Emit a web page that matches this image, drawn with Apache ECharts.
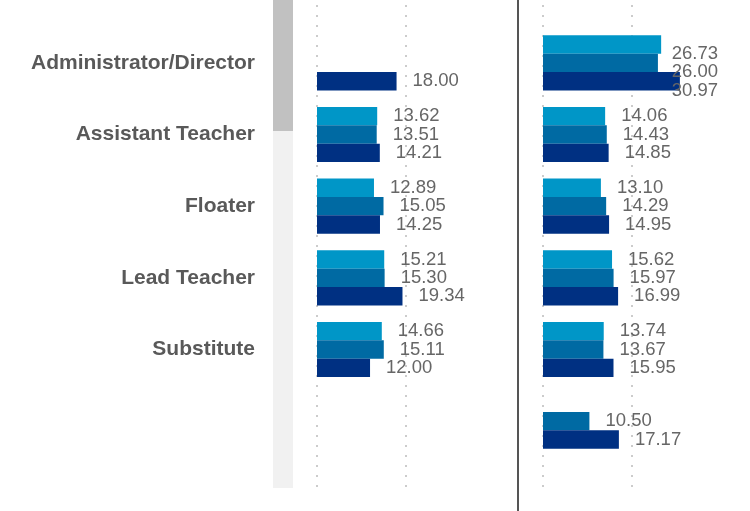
<!DOCTYPE html>
<html>
<head>
<meta charset="utf-8">
<script src="https://cdn.jsdelivr.net/npm/echarts@6/dist/echarts.min.js"></script>
<style>
  html, body { margin: 0; padding: 0; background: #fff; }
  #chart { width: 750px; height: 511px; }
</style>
</head>
<body>
<div id="chart"></div>
<script>
// categories (last row has no label)
const roles = ['Administrator/Director', 'Assistant Teacher', 'Floater', 'Lead Teacher', 'Substitute', ''];

// left panel
const leftLight = [null, 13.62, 12.89, 15.21, 14.66, null];
const leftMid   = [null, 13.51, 15.05, 15.30, 15.11, null];
const leftDark  = [18.00, 14.21, 14.25, 19.34, 12.00, null];

// right panel
const rightLight = [26.73, 14.06, 13.10, 15.62, 13.74, null];
const rightMid   = [26.00, 14.43, 14.29, 15.97, 13.67, 10.50];
const rightDark  = [30.97, 14.85, 14.95, 16.99, 15.95, 17.17];

// dotted guide lines
const gridTicks = [0, 20];

const colors = ['#0096c7', '#006aa3', '#003082'];
const pxPerUnit = 4.42;
const labelLimit = 718; // labels never pass this x

var chart = echarts.init(document.getElementById('chart'));

function barSeries(data, color, xi, yi) {
  return {
    type: 'bar',
    data: data,
    xAxisIndex: xi,
    yAxisIndex: yi,
    barWidth: 18.4,
    barGap: '0%',
    itemStyle: { color: color },
    label: {
      show: true,
      position: 'right',
      distance: 16,
      formatter: p => p.value == null ? '' : Number(p.value).toFixed(2),
      color: '#666',
      fontSize: 18.5,
      fontFamily: 'Liberation Sans, Arial, sans-serif'
    },
    labelLayout: function (params) {
      var r = params.labelRect;
      if (r.x + r.width > labelLimit) {
        return { x: labelLimit - r.width };
      }
      return {};
    }
  };
}

var dotted = { color: '#cccccc', width: 2, type: [2, 8] };

var option = {
  animation: false,
  grid: [
    // bar areas
    { left: 317, top: 27, width: 45 * pxPerUnit, height: 430 },
    { left: 543, top: 27, width: 46.8 * pxPerUnit, height: 430 },
    // dotted guide areas
    { left: 317, top: 5, width: gridTicks[1] * pxPerUnit, height: 483 },
    { left: 543, top: 5, width: gridTicks[1] * pxPerUnit, height: 483 }
  ],
  xAxis: [
    { gridIndex: 0, type: 'value', min: 0, max: 45, show: false },
    { gridIndex: 1, type: 'value', min: 0, max: 46.8, show: false },
    { gridIndex: 2, type: 'value', min: gridTicks[0], max: gridTicks[1], interval: 20,
      axisLine: { show: false }, axisTick: { show: false }, axisLabel: { show: false },
      splitLine: { show: true, lineStyle: dotted } },
    { gridIndex: 3, type: 'value', min: gridTicks[0], max: gridTicks[1], interval: 20,
      axisLine: { show: false }, axisTick: { show: false }, axisLabel: { show: false },
      splitLine: { show: true, lineStyle: dotted } }
  ],
  yAxis: [
    { gridIndex: 0, type: 'category', data: roles, inverse: true,
      axisLine: { show: false }, axisTick: { show: false },
      axisLabel: { margin: 62, fontSize: 21, fontWeight: 'bold', color: '#595959',
                   padding: [5, 0, 0, 0],
                   fontFamily: 'Liberation Sans, Arial, sans-serif' } },
    { gridIndex: 1, type: 'category', data: roles, inverse: true, show: false },
    { gridIndex: 2, type: 'value', show: false, min: 0, max: 1 },
    { gridIndex: 3, type: 'value', show: false, min: 0, max: 1 }
  ],
  graphic: [
    // scrollbar track and thumb
    { type: 'rect', shape: { x: 273, y: 0, width: 20, height: 488 }, style: { fill: '#f1f1f1' } },
    { type: 'rect', shape: { x: 273, y: 0, width: 20, height: 131 }, style: { fill: '#c1c1c1' } },
    // panel divider
    { type: 'line', shape: { x1: 518, y1: 0, x2: 518, y2: 511 }, style: { stroke: '#555', lineWidth: 2 } }
  ],
  series: [
    barSeries(leftLight, colors[0], 0, 0),
    barSeries(leftMid, colors[1], 0, 0),
    barSeries(leftDark, colors[2], 0, 0),
    barSeries(rightLight, colors[0], 1, 1),
    barSeries(rightMid, colors[1], 1, 1),
    barSeries(rightDark, colors[2], 1, 1)
  ]
};

chart.setOption(option);
</script>
</body>
</html>
